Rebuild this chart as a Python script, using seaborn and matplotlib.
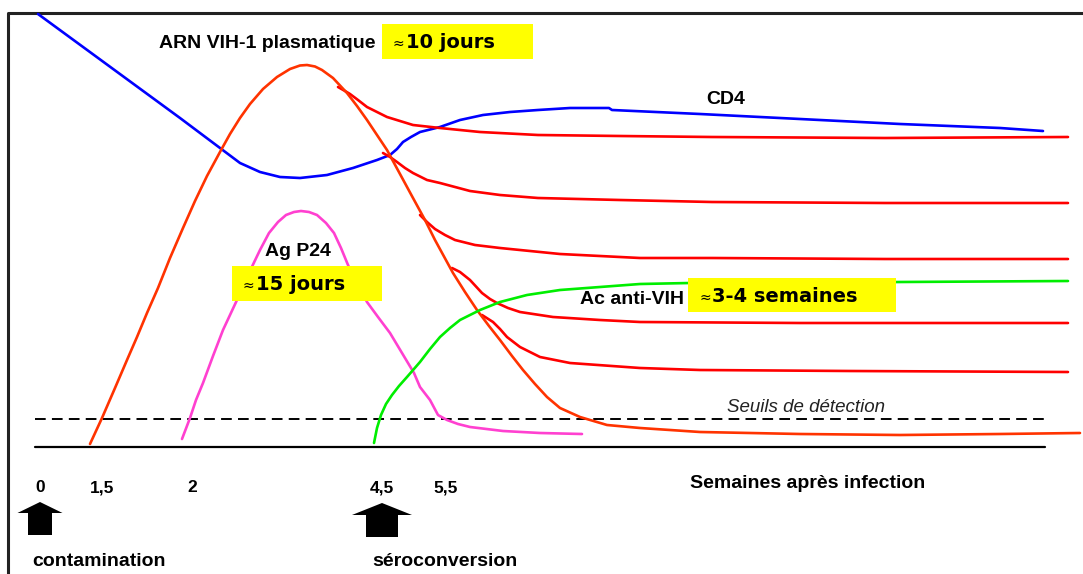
import matplotlib
matplotlib.use("Agg")
import matplotlib.pyplot as plt
import seaborn as sns
import pandas as pd
from matplotlib.patches import Rectangle, Polygon

sns.set_style("white")
plt.rcParams['font.family'] = ['Liberation Sans', 'DejaVu Sans']

# ---- data (schematic positions) ----
arn_x = [90, 102, 115, 127, 137, 147, 158, 170, 183, 195, 207, 220, 230, 240, 250, 263, 277, 290, 300, 307,
         315, 322, 333, 347, 357, 367, 377, 387, 400, 413, 425, 435, 453, 465, 477, 489, 500, 512, 523, 535,
         547, 560, 580, 607, 640, 700, 800, 900, 1000, 1080]
arn_y = [444, 418, 388, 360, 337, 313, 288, 258, 228, 201, 176, 152, 134, 118, 104, 89, 77, 69, 65.5, 65,
         66.5, 70, 78, 93, 106, 120, 135, 150, 174, 198, 220, 240, 273, 292, 310, 326, 340, 356, 370, 384,
         397, 408, 417, 425, 428, 432, 434, 435, 434, 433]

branch1_x = [338, 345, 350, 358, 367, 377, 387, 400, 413, 440, 480, 538, 620, 712, 885, 1068]
branch1_y = [87, 91, 94, 100, 107, 112, 117, 121, 125, 128, 132, 135, 136, 137, 138, 137]
branch2_x = [383, 390, 397, 405, 413, 427, 440, 470, 500, 538, 620, 712, 885, 1068]
branch2_y = [153, 157, 162, 168, 173, 180, 183, 191, 195, 198, 200, 202, 203, 203]
branch3_x = [420, 427, 435, 445, 455, 475, 500, 520, 560, 640, 712, 885, 1068]
branch3_y = [215, 222, 229, 235, 240, 245, 248, 250, 254, 258, 258, 259, 259]
branch4_x = [452, 460, 470, 482, 490, 497, 508, 520, 553, 600, 640, 800, 1068]
branch4_y = [268, 272, 280, 293, 299, 303, 308, 312, 317, 320, 322, 323, 323]
branch5_x = [482, 493, 500, 507, 520, 530, 540, 555, 570, 640, 700, 850, 1068]
branch5_y = [315, 322, 329, 337, 347, 352, 357, 360, 363, 368, 370, 371, 372]

cd4_x = [38, 180, 200, 220, 240, 260, 280, 300, 327, 353, 377, 390, 397, 403, 411, 420, 440, 460, 483, 510,
         538, 570, 609, 612, 700, 800, 900, 1000, 1043]
cd4_y = [14, 118, 133, 148, 163, 172, 177, 178, 175, 168, 160, 155, 149, 142, 137, 132, 127, 120, 115, 112,
         110, 108, 108, 110, 114, 119, 124, 128, 131]

p24_x = [182, 190, 196, 203, 213, 223, 230, 237, 248, 260, 269, 278, 286, 294, 301, 309, 317, 326, 334, 341,
         348, 358, 367, 378, 390, 402, 414, 420, 430, 438, 447, 458, 470, 503, 540, 582]
p24_y = [439, 418, 400, 383, 356, 330, 315, 300, 275, 250, 233, 222, 215, 212, 211, 212, 215, 223, 233, 248,
         265, 286, 302, 317, 333, 353, 373, 387, 400, 415, 420, 424, 427, 431, 433, 434]

ac_x = [374, 377, 381, 386, 392, 399, 407, 420, 430, 440, 450, 460, 470, 480, 500, 527, 560, 600, 640, 690,
        800, 900, 1068]
ac_y = [443, 428, 415, 404, 395, 386, 377, 362, 349, 337, 328, 320, 315, 310, 302, 295, 290, 287, 284, 283,
        283, 282, 281]

axis_x = [35, 1045]
baseline_y = 447
threshold_y = 419

tick_pos = [40, 102, 192, 382, 446]
tick_labels = ["0", "1,5", "2", "4,5", "5,5"]

# ---- figure ----
fig = plt.figure(figsize=(10.83, 5.74), dpi=100)
ax = fig.add_axes([0, 0, 1, 1])

# frame (top and left)
ax.plot([8, 8, 1083], [574, 13, 13], color="#222222", lw=2.2, solid_capstyle="butt")

# axis lines
ax.plot(axis_x, [baseline_y, baseline_y], color="black", lw=1.6)
ax.plot(axis_x, [threshold_y, threshold_y], color="black", lw=1.4, dashes=(5.5, 3.2))


def curve(xs, ys, color, lw=1.9):
    df = pd.DataFrame({"x": xs, "y": ys})
    sns.lineplot(data=df, x="x", y="y", sort=False, estimator=None, color=color, lw=lw, ax=ax,
                 legend=False)


curve(cd4_x, cd4_y, "#0000FF")
for bx, by in [(branch1_x, branch1_y), (branch2_x, branch2_y), (branch3_x, branch3_y),
               (branch4_x, branch4_y), (branch5_x, branch5_y)]:
    curve(bx, by, "#FF0000")
curve(arn_x, arn_y, "#FF3300")
curve(p24_x, p24_y, "#FF40D0")
curve(ac_x, ac_y, "#00EE00")

ax.set_xlim(0, 1083)
ax.set_ylim(574, 0)
ax.axis("off")

# yellow boxes
for (x0, y0, x1, y1) in [(382, 24, 533, 59), (232, 266, 382, 301), (688, 278, 896, 312)]:
    ax.add_patch(Rectangle((x0, y0), x1 - x0, y1 - y0, facecolor="#FFFF00", edgecolor="none", zorder=3))

lab = dict(fontweight="bold", fontsize=14, color="black", va="center", zorder=4)
ax.text(159, 43, "ARN VIH-1 plasmatique", ha="left", **lab)
ax.text(726, 99, "CD4", ha="center", **lab)
ax.text(298, 252, "Ag P24", ha="center", **lab)
ax.text(580, 299, "Ac anti-VIH", ha="left", **lab)

box = dict(fontweight="bold", fontsize=14, color="black", va="center", zorder=4, family="DejaVu Sans")
apx = dict(fontsize=10, color="black", va="center", zorder=4, family="DejaVu Sans")
ax.text(393, 44, "≈", ha="left", **apx)
ax.text(406, 42, "10 jours", ha="left", **box)
ax.text(243, 286, "≈", ha="left", **apx)
ax.text(256, 284, "15 jours", ha="left", **box)
ax.text(700, 298, "≈", ha="left", **apx)
ax.text(712, 296, "3-4 semaines", ha="left", **box)

ax.text(806, 408, "Seuils de détection", ha="center", va="center", fontsize=13.5, fontstyle="italic",
        color="#222222")

for p, t in zip(tick_pos, tick_labels):
    ax.text(p, 488, t, ha="center", va="center", fontweight="bold", fontsize=12.5, color="black")
ax.text(808, 484, "Semaines après infection", ha="center", va="center", fontweight="bold", fontsize=14,
        color="black")

# arrows at contamination and seroconversion
arrows = [(40, 45, 24, 502, 513, 535), (382, 60, 32, 503, 515, 537)]
for cx, hw, sw, top, hb, bot in arrows:
    pts = [(cx, top), (cx + hw / 2, hb), (cx + sw / 2, hb), (cx + sw / 2, bot), (cx - sw / 2, bot),
           (cx - sw / 2, hb), (cx - hw / 2, hb)]
    ax.add_patch(Polygon(pts, closed=True, facecolor="black", edgecolor="none"))

ax.text(32, 562, "contamination", ha="left", va="center", fontweight="bold", fontsize=14, color="black")
ax.text(372, 562, "séroconversion", ha="left", va="center", fontweight="bold", fontsize=14, color="black")

fig.savefig("out.png", dpi=100)
